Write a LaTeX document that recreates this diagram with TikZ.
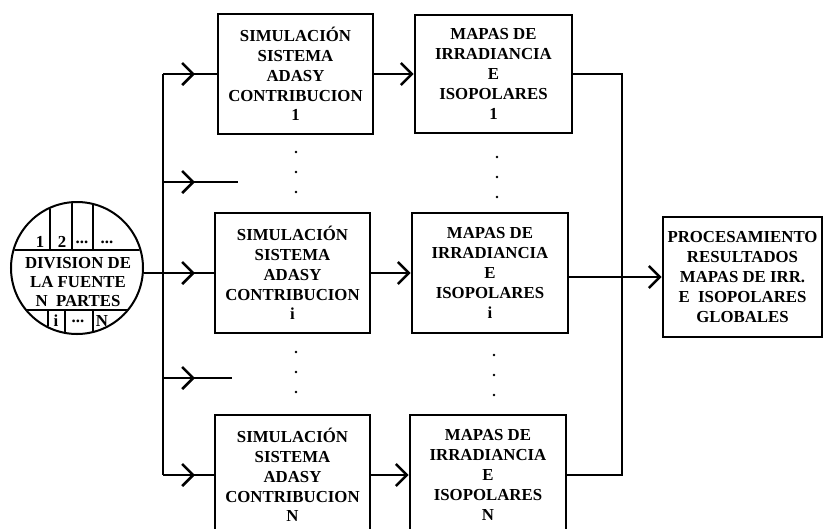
\documentclass[tikz,border=0pt]{standalone}
\usepackage{fontspec}
\setmainfont{Liberation Serif}
\usetikzlibrary{arrows.meta,decorations.markings}

\tikzset{
  blk/.style={draw,line width=2.6pt,inner sep=0pt,align=center,
    font=\bfseries\fontsize{16.8}{19.8}\selectfont},
  lbl/.style={inner sep=0pt,align=center,font=\bfseries\fontsize{16.8}{19}\selectfont},
  tipin/.style={-{Straight Barb[length=11pt,width=22pt]}},
  midtip/.style={postaction={decorate},decoration={markings,
    mark=at position 32pt with {\arrow{Straight Barb[length=11pt,width=22pt]}}}},
  thin/.style={line width=1.3pt}
}

\begin{document}
\begin{tikzpicture}[x=1pt,y=-1pt,line width=2.6pt]
\useasboundingbox (0,0) rectangle (825,528);
% fuente dividida
\node[circle,draw,line width=2pt,minimum size=132pt,inner sep=0pt] (div) at (77,268) {};
\begin{scope}
  \clip (77,268) circle[radius=65];
  \draw[thin] (0,250) -- (160,250) (0,310) -- (160,310);
  \foreach \x in {50,72,93} \draw[thin] (\x,190) -- (\x,250);
  \foreach \x in {48,65,93} \draw[thin] (\x,310) -- (\x,345);
\end{scope}
\node[lbl] (divtxt) at (78,282) {DIVISION DE\\LA FUENTE\\N\ \ PARTES};
\node[lbl] (p1) at (40,242) {1};
\node[lbl] (p2) at (62,242) {2};
\node[lbl] (p3) at (82,242) {...};
\node[lbl] (p4) at (107,242) {...};
\node[lbl] (pi) at (56,321) {i};
\node[lbl] (pd) at (78,321) {...};
\node[lbl] (pn) at (102,321) {N};
% bloques de simulacion
\node[blk,minimum width=155pt,minimum height=120pt] (s1) at (295.5,74) {SIMULACIÓN\\SISTEMA\\ADASY\\CONTRIBUCION\\1};
\node[blk,minimum width=155pt,minimum height=120pt] (si) at (292.5,273) {SIMULACIÓN\\SISTEMA\\ADASY\\CONTRIBUCION\\i};
\node[blk,minimum width=155pt,minimum height=120pt] (sn) at (292.5,475) {SIMULACIÓN\\SISTEMA\\ADASY\\CONTRIBUCION\\N};
% mapas
\node[blk,minimum width=157pt,minimum height=118pt] (m1) at (493.5,74) {MAPAS DE\\IRRADIANCIA\\E\\ISOPOLARES\\1};
\node[blk,minimum width=156pt,minimum height=120pt] (mi) at (490,273) {MAPAS DE\\IRRADIANCIA\\E\\ISOPOLARES\\i};
\node[blk,minimum width=156pt,minimum height=120pt] (mn) at (488,475) {MAPAS DE\\IRRADIANCIA\\E\\ISOPOLARES\\N};
% procesamiento
\node[blk,minimum width=159pt,minimum height=120pt] (out) at (742.5,277) {PROCESAMIENTO\\RESULTADOS\\MAPAS DE IRR.\\E\ \ ISOPOLARES\\GLOBALES};
% bus de entrada
\coordinate (b1) at (163,74);
\coordinate (ba) at (163,182);
\coordinate (bi) at (163,273);
\coordinate (bb) at (163,378);
\coordinate (bn) at (163,475);
\coordinate (ea) at (238,182);
\coordinate (eb) at (232,378);
\draw (b1) -- (bn);
\draw (div.east |- bi) -- (bi);
\draw[midtip] (b1) -- (s1.west);
\draw[midtip] (ba) -- (ea);
\draw[midtip] (bi) -- (si.west);
\draw[midtip] (bb) -- (eb);
\draw[midtip] (bn) -- (sn.west);
% simulacion -> mapas
\draw[tipin] (s1.east) -- (m1.west);
\draw[tipin] (si.east) -- (mi.west);
\draw[tipin] (sn.east) -- (mn.west);
% colector de salida
\coordinate (r1) at (622,74);
\coordinate (rn) at (622,475);
\draw (m1.east) -- (r1) -- (rn) -- (mn.east);
\draw[tipin] (mi.east |- out.west) -- (out.west);
% puntos suspensivos
\foreach \x/\y in {296/152,497/157,296/352,494/355}
  \foreach \k in {0,20,40}
    \fill (\x,\y+\k) circle[radius=1.3];
\end{tikzpicture}
\end{document}
